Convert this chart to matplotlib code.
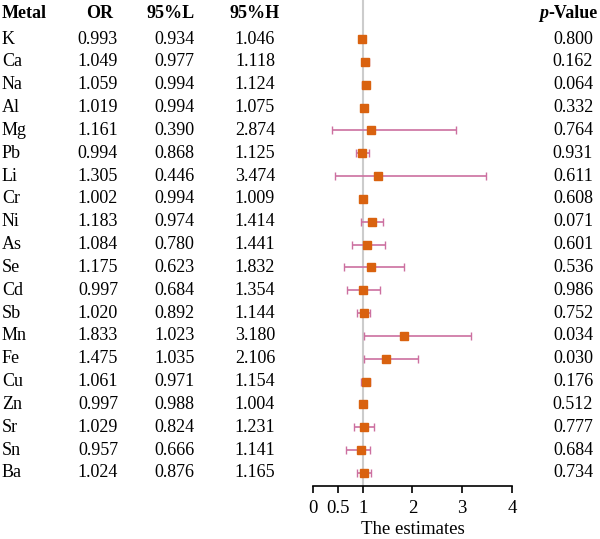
import matplotlib
matplotlib.use("Agg")
import matplotlib.pyplot as plt
from matplotlib.transforms import blended_transform_factory

plt.rcParams['font.family'] = ['Liberation Serif', 'DejaVu Serif']

# table data
metals = ["K", "Ca", "Na", "Al", "Mg", "Pb", "Li", "Cr", "Ni", "As",
          "Se", "Cd", "Sb", "Mn", "Fe", "Cu", "Zn", "Sr", "Sn", "Ba"]
or_vals = [0.993, 1.049, 1.059, 1.019, 1.161, 0.994, 1.305, 1.002, 1.183, 1.084,
           1.175, 0.997, 1.020, 1.833, 1.475, 1.061, 0.997, 1.029, 0.957, 1.024]
low_vals = [0.934, 0.977, 0.994, 0.994, 0.390, 0.868, 0.446, 0.994, 0.974, 0.780,
            0.623, 0.684, 0.892, 1.023, 1.035, 0.971, 0.988, 0.824, 0.666, 0.876]
high_vals = [1.046, 1.118, 1.124, 1.075, 2.874, 1.125, 3.474, 1.009, 1.414, 1.441,
             1.832, 1.354, 1.144, 3.180, 2.106, 1.154, 1.004, 1.231, 1.141, 1.165]
p_vals = [0.800, 0.162, 0.064, 0.332, 0.764, 0.931, 0.611, 0.608, 0.071, 0.601,
          0.536, 0.986, 0.752, 0.034, 0.030, 0.176, 0.512, 0.777, 0.684, 0.734]
xticks = [0, 0.5, 1, 2, 3, 4]

W, H = 600, 539
fig = plt.figure(figsize=(W / 100, H / 100), dpi=100)

# forest plot axes (pixel layout from the reference)
ax_l, ax_r, ax_b = 313, 512, 486
ax = fig.add_axes([ax_l / W, (H - ax_b) / H, (ax_r - ax_l) / W, ax_b / H])

row0, step = 39, 22.84
y_top = -row0 / step
y_bot = (ax_b - row0) / step
ax.set_ylim(y_bot, y_top)
ax.set_xlim(0, 4)

ys = list(range(len(metals)))
ax.axvline(1, color="#cccccc", lw=1.5, zorder=0)
err_lo = [o - l for o, l in zip(or_vals, low_vals)]
err_hi = [h - o for o, h in zip(or_vals, high_vals)]
ax.errorbar(or_vals, ys, xerr=[err_lo, err_hi], fmt="none", ecolor="#cc70a0",
            elinewidth=1.2, capsize=3, capthick=1.0, zorder=2)
ax.plot(or_vals, ys, "s", color="#d9620f", ms=6, zorder=3)

for s in ["top", "left", "right"]:
    ax.spines[s].set_visible(False)
ax.spines["bottom"].set_linewidth(1.2)
ax.set_yticks([])
ax.set_xticks(xticks)
ax.set_xticklabels(["0", "0.5", "1", "2", "3", "4"])
ax.tick_params(axis="x", direction="out", length=5, width=1.2, labelsize=13.5, pad=5)
ax.set_xlabel("The estimates", fontsize=13.5, labelpad=3)
ax.patch.set_alpha(0)

# table text
tr = blended_transform_factory(fig.transFigure, ax.transData)
fs = 13
hy = (13 - row0) / step
fig.text(2 / W, hy, "Metal", transform=tr, ha="left", va="center", fontsize=fs, weight="bold")
fig.text(100 / W, hy, "OR", transform=tr, ha="center", va="center", fontsize=fs, weight="bold")
fig.text(171 / W, hy, "95%L", transform=tr, ha="center", va="center", fontsize=fs, weight="bold")
fig.text(255 / W, hy, "95%H", transform=tr, ha="center", va="center", fontsize=fs, weight="bold")
tv = fig.text(598 / W, hy, "-Value", transform=tr, ha="right", va="center", fontsize=fs, weight="bold")
ax.annotate("p", xy=(0, 0), xycoords=tv, ha="right", va="bottom", fontsize=fs,
            weight="bold", style="italic", annotation_clip=False)

for i, m in enumerate(metals):
    fig.text(2 / W, i, m, transform=tr, ha="left", va="center", fontsize=fs)
    fig.text(98 / W, i, f"{or_vals[i]:.3f}", transform=tr, ha="center", va="center", fontsize=fs)
    fig.text(174.5 / W, i, f"{low_vals[i]:.3f}", transform=tr, ha="center", va="center", fontsize=fs)
    fig.text(255 / W, i, f"{high_vals[i]:.3f}", transform=tr, ha="center", va="center", fontsize=fs)
    fig.text(573 / W, i, f"{p_vals[i]:.3f}", transform=tr, ha="center", va="center", fontsize=fs)

fig.savefig("out.png", dpi=100)
